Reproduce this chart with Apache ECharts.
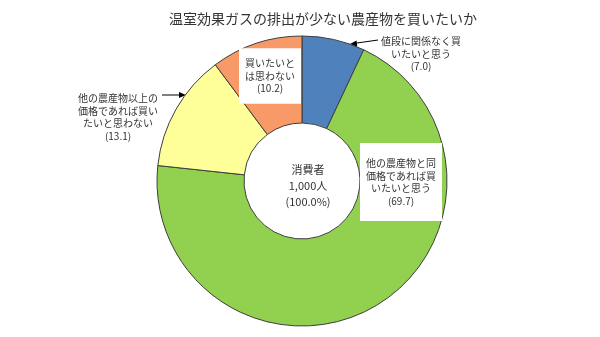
<!DOCTYPE html>
<html>
<head>
<meta charset="utf-8">
<script src="https://cdn.jsdelivr.net/npm/echarts@6/dist/echarts.min.js"></script>
<style>html,body{margin:0;padding:0;background:#fff}#c{width:600px;height:337px}</style>
</head>
<body>
<div id="c"></div>
<script>
const titleText = '温室効果ガスの排出が少ない農産物を買いたいか';
const categories = [
  '値段に関係なく買\nいたいと思う',
  '他の農産物と同\n価格であれば買\nいたいと思う',
  '他の農産物以上の\n価格であれば買い\nたいと思わない',
  '買いたいと\nは思わない'
];
const values = [7.0, 69.7, 13.1, 10.2];
const colors = ['#4F81BD', '#92D050', '#FFFF99', '#F79A68'];
const centerText = '消費者\n1,000人\n(100.0%)';

const FONT = '"Noto Sans CJK JP", sans-serif';
const labelPos = [
  {x: 421, y: 54, bg: 'transparent'},
  {x: 401, y: 182, bg: '#fff', pad: [14, 6, 14, 6]},
  {x: 118, y: 117, bg: 'transparent'},
  {x: 270, y: 76, bg: '#fff', pad: [9, 6, 9, 6]}
];

const chart = echarts.init(document.getElementById('c'));
chart.setOption({
  animation: false,
  title: [
    {text: titleText, left: 318, top: 7, textAlign: 'center',
     textStyle: {fontFamily: FONT, fontSize: 14, fontWeight: 'normal', color: '#333'}},
    {text: centerText, left: 303, top: 157, textAlign: 'center',
     textStyle: {fontFamily: FONT, fontSize: 11, fontWeight: 'normal', color: '#333', lineHeight: 16}}
  ],
  series: [{
    type: 'pie',
    center: [302, 181],
    radius: [58, 145],
    startAngle: 90,
    clockwise: true,
    avoidLabelOverlap: false,
    itemStyle: {borderColor: '#3d3d3d', borderWidth: 1},
    labelLine: {show: false},
    label: {
      show: true,
      fontFamily: FONT,
      fontSize: 10,
      color: '#333',
      lineHeight: 12.5,
      align: 'center',
      formatter: p => p.name + '\n(' + p.value.toFixed(1) + ')'
    },
    labelLayout: function (p) {
      const lp = labelPos[p.dataIndex];
      return {x: lp.x, y: lp.y, align: 'center', verticalAlign: 'middle'};
    },
    data: categories.map((c, i) => ({
      name: c, value: values[i],
      itemStyle: {color: colors[i]},
      label: {backgroundColor: labelPos[i].bg, padding: labelPos[i].pad || 0}
    }))
  }],
  graphic: [
    {type: 'line', shape: {x1: 378, y1: 40, x2: 355, y2: 43.3}, style: {stroke: '#000', lineWidth: 1}},
    {type: 'polygon', shape: {points: [[350, 44], [357.3, 46.8], [356.5, 40.5]]}, style: {fill: '#000'}},
    {type: 'line', shape: {x1: 162, y1: 95, x2: 181, y2: 95}, style: {stroke: '#000', lineWidth: 1}},
    {type: 'polygon', shape: {points: [[186, 95], [179, 92], [179, 98]]}, style: {fill: '#000'}}
  ]
});
</script>
</body>
</html>
